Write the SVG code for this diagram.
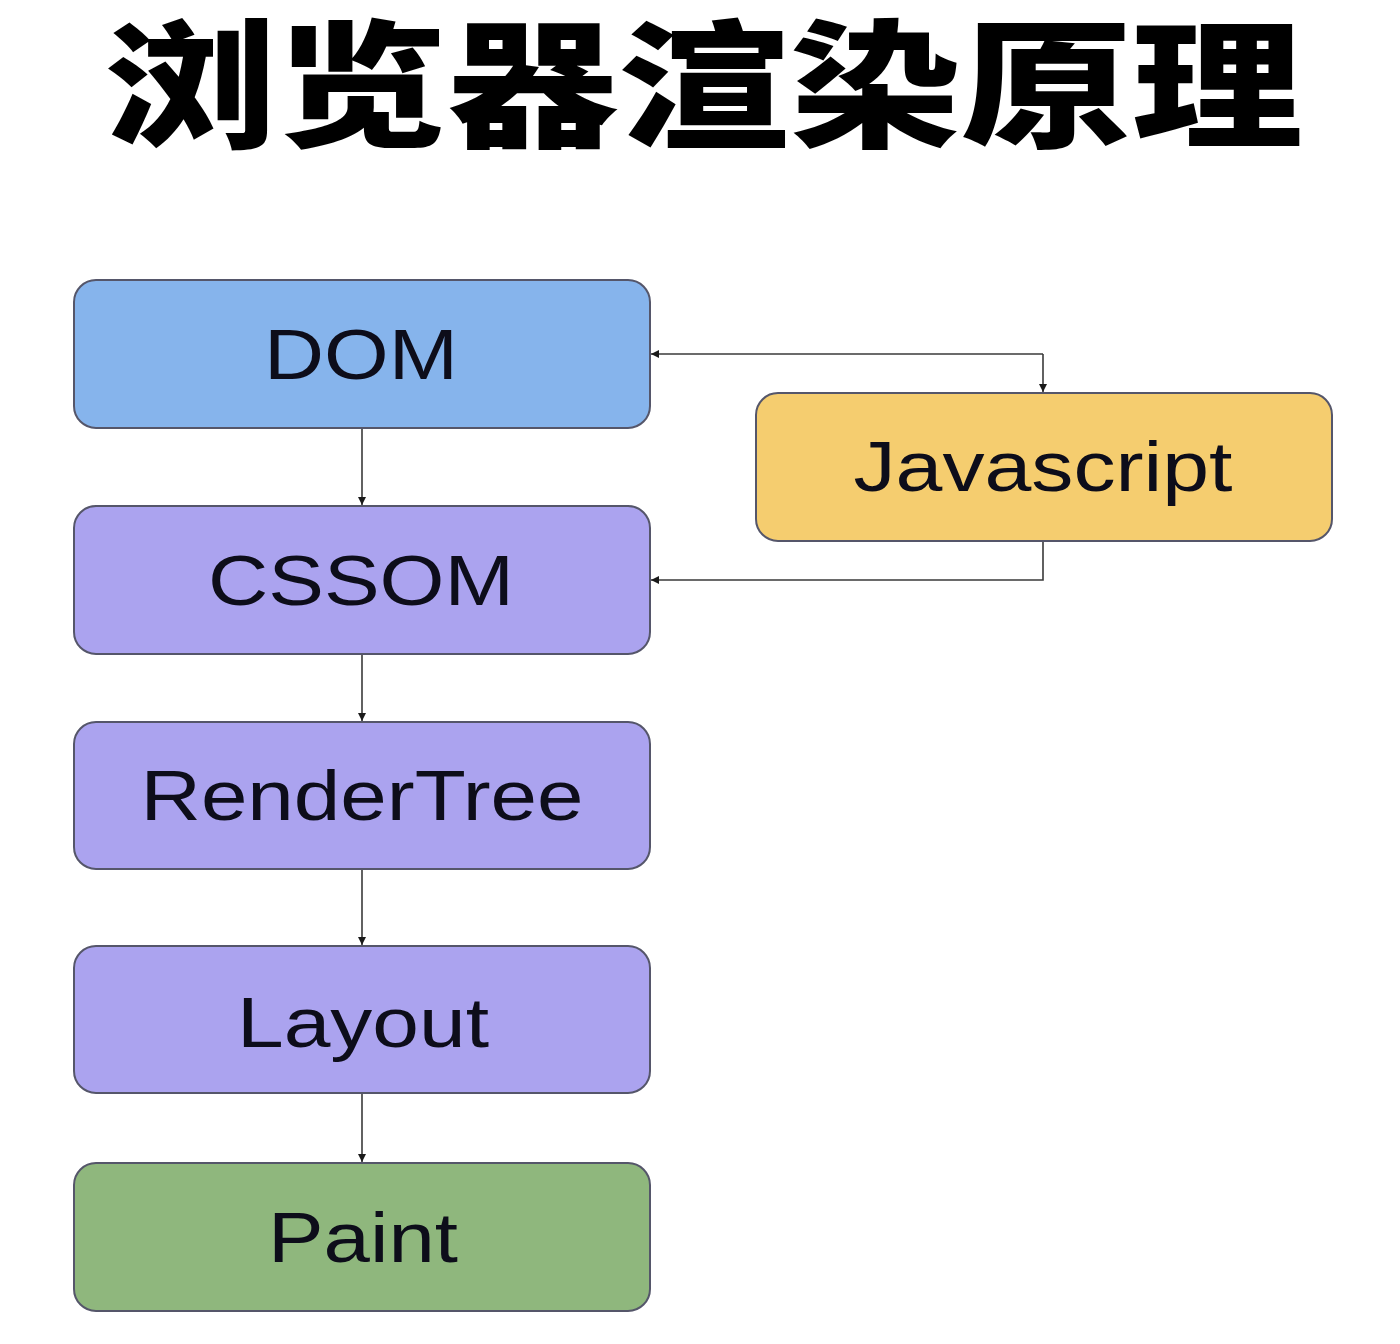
<svg xmlns="http://www.w3.org/2000/svg" width="1400" height="1344" viewBox="0 0 1400 1344">
  <defs>
    <marker id="ah" markerUnits="userSpaceOnUse" markerWidth="10" markerHeight="10" refX="8" refY="4" orient="auto">
      <path d="M0,0 L8,4 L0,8 Z" fill="#1a1a1a"/>
    </marker>
    <style>
      .box { stroke: #55566a; stroke-width: 2; }
      .lbl { font-family: "Liberation Sans", Arial, sans-serif; font-size: 70px; fill: #0d0d1a; text-anchor: middle; }
      .conn { fill: none; stroke: #3a3a3a; stroke-width: 1.6; }
      .title { font-family: "Noto Sans CJK SC", sans-serif; font-weight: 900; font-size: 138px; fill: #000; }
    </style>
  </defs>
  <rect width="1400" height="1344" fill="#ffffff"/>
  <text class="title" x="105" y="136" textLength="1198" lengthAdjust="spacingAndGlyphs">浏览器渲染原理</text>

  <g id="connectors">
    <path class="conn" d="M362,428 L362,505" marker-end="url(#ah)"/>
    <path class="conn" d="M362,654 L362,721" marker-end="url(#ah)"/>
    <path class="conn" d="M362,869 L362,945" marker-end="url(#ah)"/>
    <path class="conn" d="M362,1093 L362,1162" marker-end="url(#ah)"/>
    <path class="conn" d="M1043,354 L1043,392" marker-end="url(#ah)"/>
    <path class="conn" d="M1043,354 L651,354" marker-end="url(#ah)"/>
    <path class="conn" d="M1043,541 L1043,580 L651,580" marker-end="url(#ah)"/>
  </g>

  <g id="node-dom">
    <rect class="box" x="74" y="280" width="576" height="148" rx="22" fill="#86b4ec"/>
    <text class="lbl" x="361" y="379" textLength="194" lengthAdjust="spacingAndGlyphs">DOM</text>
  </g>
  <g id="node-cssom">
    <rect class="box" x="74" y="506" width="576" height="148" rx="22" fill="#aba3ef"/>
    <text class="lbl" x="361" y="605" textLength="306" lengthAdjust="spacingAndGlyphs">CSSOM</text>
  </g>
  <g id="node-rendertree">
    <rect class="box" x="74" y="722" width="576" height="147" rx="22" fill="#aba3ef"/>
    <text class="lbl" x="362" y="820" textLength="443" lengthAdjust="spacingAndGlyphs">RenderTree</text>
  </g>
  <g id="node-layout">
    <rect class="box" x="74" y="946" width="576" height="147" rx="22" fill="#aba3ef"/>
    <text class="lbl" x="363" y="1047" textLength="252" lengthAdjust="spacingAndGlyphs">Layout</text>
  </g>
  <g id="node-paint">
    <rect class="box" x="74" y="1163" width="576" height="148" rx="22" fill="#8fb77d"/>
    <text class="lbl" x="363" y="1262" textLength="190" lengthAdjust="spacingAndGlyphs">Paint</text>
  </g>
  <g id="node-javascript">
    <rect class="box" x="756" y="393" width="576" height="148" rx="22" fill="#f5cd6f"/>
    <text class="lbl" x="1043" y="491" textLength="379" lengthAdjust="spacingAndGlyphs">Javascript</text>
  </g>
</svg>
